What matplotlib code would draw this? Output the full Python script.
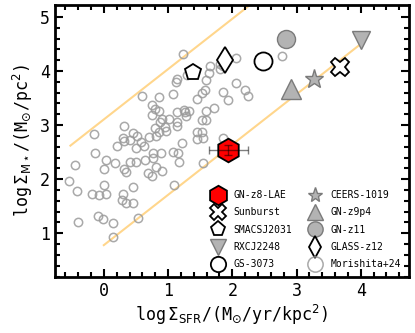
import numpy as np
import matplotlib
matplotlib.use("Agg")
import matplotlib.pyplot as plt

plt.rcParams['font.family'] = 'DejaVu Sans Mono'
plt.rcParams['mathtext.fontset'] = 'dejavusans'

# Morishita+24 compilation (log SFR surface density, log stellar surface density)
mor_x = [1.23, -0.15, -0.14, -0.45, -0.54, -0.41, -0.40, -0.18, -0.07, 0.04,
         0.00, 0.00, 0.04, 0.17, 0.21, 0.32, 0.34, 0.40, 0.50, 0.30,
         0.28, 0.35, 0.46, 0.45, -0.09, -0.02, 0.15, 0.53, 0.15, 0.50,
         0.63, 0.64, 0.76, 0.77, 0.89, 0.82, 0.91, 0.69, 0.75, 1.08,
         1.16, 1.17, 1.10, 1.54, 0.32, 0.30, 0.32, 0.41, 0.46, 0.52,
         0.58, 0.71, 0.81, 0.86, 0.79, 0.97, 1.21, 0.60, 0.86, 1.07,
         1.12, 1.14, 0.75, 0.75, 0.86, 0.91, 0.87, 1.02, 1.14, 1.14,
         1.25, 2.06, 1.66, 1.81, 1.81, 2.77, 1.63, 1.59, 1.30, 2.05,
         2.19, 2.24, 1.85, 1.93, 1.58, 1.53, 1.45, 1.71, 1.59, 1.32,
         1.27, 1.28, 1.53, 1.59, 1.14, 1.45, 1.53, 1.45, 1.54, 1.85,
         0.80, 0.95, 1.86]
mor_y = [4.31, 2.83, 2.48, 2.26, 1.97, 1.78, 1.21, 1.72, 1.70, 1.72,
         1.90, 2.19, 2.35, 2.29, 2.62, 2.18, 2.13, 2.31, 2.31, 1.72,
         1.61, 1.56, 1.56, 1.86, 1.31, 1.26, 1.19, 1.28, 0.93, 2.57,
         2.61, 2.35, 2.48, 2.40, 2.48, 2.23, 2.15, 2.12, 2.06, 2.51,
         2.48, 2.31, 1.89, 2.29, 2.99, 2.76, 2.71, 2.72, 2.85, 2.80,
         2.68, 2.78, 2.80, 2.88, 2.95, 2.89, 2.66, 3.54, 3.52, 3.57,
         3.80, 3.86, 3.37, 3.18, 3.26, 3.11, 3.06, 3.11, 3.25, 3.06,
         3.28, 4.24, 4.09, 4.13, 4.04, 4.28, 3.96, 3.83, 3.92, 3.78,
         3.65, 3.54, 3.62, 3.46, 3.65, 3.59, 3.49, 3.32, 3.26, 3.26,
         3.24, 3.17, 3.09, 3.09, 2.98, 2.88, 2.88, 2.75, 2.77, 2.77,
         3.30, 2.97, 4.09]

# individual high-z objects
names = ['GN-z8-LAE', 'Sunburst', 'SMACSJ2031', 'RXCJ2248', 'GS-3073',
         'CEERS-1019', 'GN-z9p4', 'GN-z11', 'GLASS-z12']
obj_x = [1.94, 3.67, 1.39, 4.00, 2.47, 3.27, 2.91, 2.84, 1.88]
obj_y = [2.54, 4.07, 3.98, 4.57, 4.19, 3.85, 3.67, 4.59, 4.20]
markers = ['h', 'X', 'p', 'v', 'o', '*', '^', 'o', 'd']
faces = ['red', 'white', 'white', '#b3b3b3', 'white', '#b3b3b3', '#b3b3b3', '#b3b3b3', 'white']
edges = ['black', 'black', 'black', '#7a7a7a', 'black', '#7a7a7a', '#7a7a7a', '#7a7a7a', 'black']
sizes = [17, 13, 12, 13, 13, 14, 14, 13, 13]
lae_xerr = 0.31
lae_yerr = 0.1

# reference lines
line_lo_x = [0.0, 4.0]
line_lo_y = [0.78, 4.50]
line_hi_x = [-0.52, 3.5]
line_hi_y = [2.62, 6.36]

fig = plt.figure(figsize=(4.15, 3.33), dpi=100)
ax = fig.add_axes([0.1325, 0.168, 0.853, 0.817])

ax.plot(line_lo_x, line_lo_y, color='orange', alpha=0.45, lw=1.5, zorder=1)
ax.plot(line_hi_x, line_hi_y, color='orange', alpha=0.45, lw=1.5, zorder=1)

handles = []
for i in range(len(names)):
    grey = edges[i] != 'black'
    h, = ax.plot(obj_x[i], obj_y[i], ls='none', marker=markers[i], ms=sizes[i],
                 mfc=faces[i], mec=edges[i], mew=1.0 if grey else 1.3,
                 label=names[i], zorder=5)
    handles.append(h)
ax.errorbar(obj_x[0], obj_y[0], xerr=lae_xerr, yerr=lae_yerr, fmt='none',
            ecolor='k', alpha=0.5, elinewidth=1, capsize=3, zorder=6)

h, = ax.plot(mor_x, mor_y, ls='none', marker='o', ms=6, mfc='none',
             mec='#9a9a9a', mew=1.1, alpha=0.85, label='Morishita+24', zorder=2)
handles.append(h)

ax.set_xlim(-0.76, 4.75)
ax.set_ylim(0.19, 5.22)
ax.set_xticks([0, 1, 2, 3, 4])
ax.set_yticks([1, 2, 3, 4, 5])
ax.set_xticks(np.arange(-0.6, 4.8, 0.2), minor=True)
ax.set_yticks(np.arange(0.2, 5.2, 0.2), minor=True)
ax.tick_params(which='both', direction='in', top=True, right=True, width=1.5)
ax.tick_params(which='major', length=6, labelsize=12)
ax.tick_params(which='minor', length=3.5)
for s in ax.spines.values():
    s.set_linewidth(2)

ax.set_xlabel(r'log$\,\Sigma_{\rm SFR}$/(M$_{\odot}$/yr/kpc$^2$)', fontsize=12, labelpad=2)
ax.set_ylabel(r'log$\,\Sigma_{\rm M\star}$/(M$_{\odot}$/pc$^2$)', fontsize=12, labelpad=4)

leg = ax.legend(handles=handles, loc='lower right', ncol=2, frameon=False, fontsize=7,
                handletextpad=0.6, columnspacing=1.4, labelspacing=0.75,
                borderaxespad=0.4)
# legend symbols all drawn at about the same size
for lh in leg.legend_handles:
    lh.set_markersize(11)
leg.legend_handles[0].set_markersize(14)

fig.savefig('out.png', dpi=100)
